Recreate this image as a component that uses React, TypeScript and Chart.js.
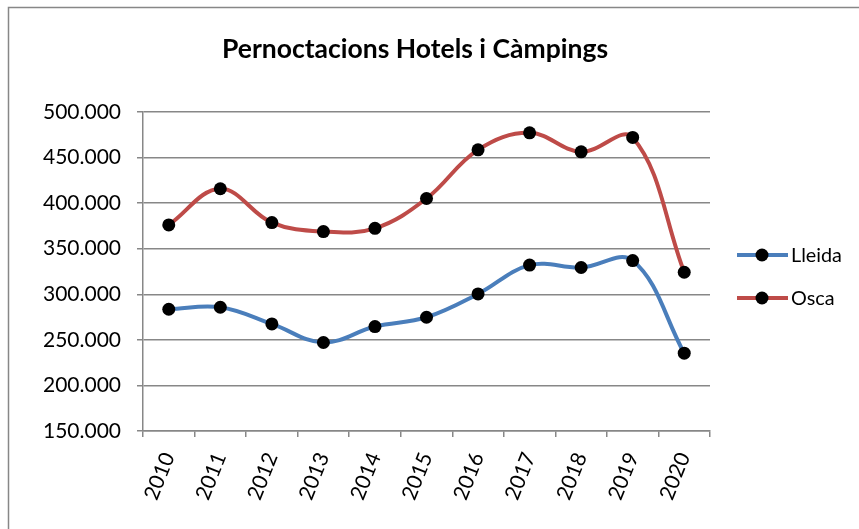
import React, { useEffect, useRef } from "react";
import { Chart, registerables } from "chart.js";

Chart.register(...registerables);

const categories = ["2010", "2011", "2012", "2013", "2014", "2015", "2016", "2017", "2018", "2019", "2020"];
const lleida = [283600, 285800, 267500, 247100, 264600, 274800, 300400, 332000, 329400, 337000, 235400];
const osca = [376100, 415800, 378700, 368800, 372400, 405100, 458500, 477200, 456300, 472100, 324200];
const seriesNames = ["Lleida", "Osca"];
const seriesColors = ["#4A7EBB", "#BE4B48"];
const titleText = "Pernoctacions Hotels i Càmpings";
const yMin = 150000;
const yMax = 500000;
const yStep = 50000;

const FONT = "Lato";
const GRID = "#878787";

function fmt(n: number): string {
  const s = Math.round(n).toString();
  return s.replace(/\B(?=(\d{3})+(?!\d))/g, ".");
}

function fitSize(text: string, weight: string, target: number): number {
  const c = document.createElement("canvas");
  const ctx = c.getContext("2d") as CanvasRenderingContext2D;
  ctx.font = `${weight} 100px ${FONT}`;
  const w = ctx.measureText(text).width;
  return Math.round((100 * target / w) * 10) / 10;
}

export default function App() {
  const ref = useRef<HTMLCanvasElement | null>(null);
  useEffect(() => {
    if (!ref.current) return;
    const tickSize = fitSize("500.000", "normal", 78);
    const titleSize = fitSize(titleText, "bold", 386);
    const legendSize = fitSize("Lleida", "normal", 51);

    const decorPlugin = {
      id: "decor",
      afterDraw(chart: any) {
        const ctx = chart.ctx;
        ctx.save();
        ctx.strokeStyle = GRID;
        ctx.lineWidth = 1.5;
        ctx.strokeRect(8.5, 7.5, 900, 600);
        ctx.fillStyle = "#000";
        ctx.font = `bold ${titleSize}px ${FONT}`;
        ctx.textAlign = "center";
        ctx.textBaseline = "alphabetic";
        ctx.fillText(titleText, 415, 58);
        const ys = [255, 298];
        seriesNames.forEach((name, i) => {
          const y = ys[i];
          ctx.strokeStyle = seriesColors[i];
          ctx.lineWidth = 4;
          ctx.lineCap = "butt";
          ctx.beginPath();
          ctx.moveTo(737, y);
          ctx.lineTo(788, y);
          ctx.stroke();
          ctx.fillStyle = "#000";
          ctx.beginPath();
          ctx.arc(762, y, 6.5, 0, Math.PI * 2);
          ctx.fill();
          ctx.font = `${legendSize}px ${FONT}`;
          ctx.textAlign = "left";
          ctx.textBaseline = "middle";
          ctx.fillText(name, 791, y + 1);
        });
        ctx.restore();
      },
    };

    const chart = new Chart(ref.current, {
      type: "line",
      data: {
        labels: categories,
        datasets: [lleida, osca].map((d, i) => ({
          label: seriesNames[i],
          data: d,
          borderColor: seriesColors[i],
          backgroundColor: "#000",
          borderWidth: 4,
          pointRadius: 6.5,
          pointBackgroundColor: "#000",
          pointBorderColor: "#000",
          pointBorderWidth: 0,
          tension: 0.38,
          fill: false,
        })),
      },
      options: {
        responsive: false,
        animation: false,
        layout: { padding: { top: 112, left: 0, right: 149, bottom: 0 } },
        plugins: {
          legend: { display: false },
          title: { display: false },
          tooltip: { enabled: false },
        },
        scales: {
          x: {
            offset: true,
            grid: {
              offset: true,
              drawOnChartArea: false,
              drawTicks: true,
              tickLength: 6,
              color: GRID,
              lineWidth: 1.5,
            },
            border: { display: true, color: GRID, width: 1.5 },
            ticks: {
              color: "#000",
              font: { family: FONT, size: tickSize },
              maxRotation: 68,
              minRotation: 68,
              padding: 12,
              autoSkip: false,
            },
            afterFit(scale: any) {
              scale.height = 98;
            },
          },
          y: {
            min: yMin,
            max: yMax,
            grid: {
              color: GRID,
              lineWidth: 1.5,
              drawTicks: true,
              tickLength: 6,
            },
            border: { display: true, color: GRID, width: 1.5 },
            ticks: {
              stepSize: yStep,
              color: "#000",
              font: { family: FONT, size: tickSize },
              padding: 16,
              callback: (v: any) => fmt(Number(v)),
            },
            afterFit(scale: any) {
              scale.width = 143;
            },
          },
        },
      },
      plugins: [decorPlugin],
    } as any);
    return () => chart.destroy();
  }, []);
  return (
    <div style={{ position: "fixed", left: 0, top: 0, width: 859, height: 529, background: "#fff" }}>
      <canvas ref={ref} width={859} height={529} style={{ display: "block" }} />
    </div>
  );
}
